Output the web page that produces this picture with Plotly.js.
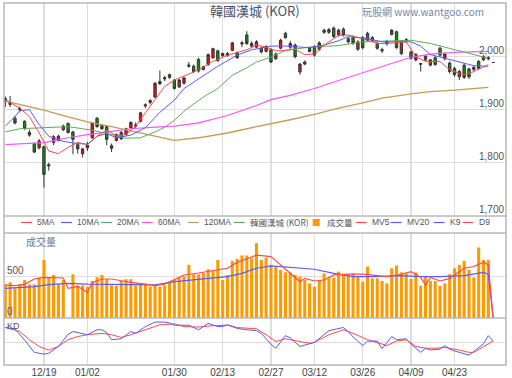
<!DOCTYPE html>
<html><head><meta charset="utf-8">
<script src="https://cdn.plot.ly/plotly-3.0.1.min.js"></script>
<style>html,body{margin:0;padding:0;background:#fff}#c{width:512px;height:378px}</style>
</head><body><div id="c"></div>
<script>
// ---- data (trading-day index 0 = 2011/12/07) ----
const tickIdx = [8, 17, 35, 45, 55, 64, 74, 84, 93];
const tickLabels = ['12/19','01/02','01/30','02/13','02/27','03/12','03/26','04/09','04/23'];

const days = Array.from({length:102}, (_, i) => i);
const open  = [1915,1914,1884,1900,1878,1852,1836,1828,1830,1794,1838,1842,1862,1874,1858,1834,1817,1833,1847,1884,1870,1868,1832,1842,1857,1853,1866,1869,1878,1907,1914,1924,1949,1958,1961,1956,1943,1950,1982,1982,1995,1976,1985,1998,2011,2002,2002,2012,2007,2024,2041,2020,2018,2016,2010,2013,1996,2016,2044,2018,2022,1971,1986,2016,2019,2014,2046,2046,2054,2041,2052,2034,2036,2014,2036,2044,2036,2025,2011,2024,2042,2047,2006,2030,2009,2004,1987,1994,1984,1998,2016,1996,1988,1978,1962,1984,1977,1976,1991,1994,1996,1989];
const high  = [1925,1926,1888,1906,1880,1862,1838,1845,1832,1800,1852,1853,1872,1876,1860,1839,1828,1839,1877,1886,1873,1870,1836,1855,1860,1866,1878,1876,1896,1912,1920,1952,1974,1964,1968,1958,1958,1962,1990,1985,1998,1983,2006,2017,2013,2008,2009,2028,2010,2030,2048,2029,2031,2019,2022,2016,2008,2034,2047,2030,2025,1988,1993,2019,2022,2029,2053,2054,2057,2053,2055,2037,2040,2031,2039,2047,2039,2028,2017,2032,2052,2049,2030,2035,2011,2007,1988,2004,1996,2001,2019,2008,1991,1981,1975,1987,1979,1983,1994,2003,2001,1989];
const low   = [1905,1905,1872,1895,1862,1849,1818,1825,1753,1785,1833,1840,1860,1855,1816,1817,1810,1822,1845,1866,1862,1833,1820,1840,1843,1851,1864,1865,1876,1903,1910,1922,1946,1954,1958,1938,1941,1947,1979,1970,1970,1974,1983,1996,1990,2000,2000,2010,1996,2018,2022,2016,2016,2006,2008,1988,1994,2014,2034,2014,1997,1966,1984,2008,2000,2011,2043,2043,2035,2038,2038,2025,2022,2011,2014,2028,2028,2013,2007,2021,2040,2015,2003,2026,1995,1991,1972,1991,1982,1983,2000,1993,1968,1962,1956,1958,1958,1973,1975,1992,1993,1989];
const close = [1921,1910,1875,1902,1864,1857,1820,1841,1778,1796,1849,1850,1869,1857,1844,1826,1826,1828,1875,1868,1864,1844,1827,1853,1845,1864,1876,1871,1894,1909,1917,1950,1953,1960,1966,1940,1956,1960,1984,1972,1973,1981,2004,2015,1993,2006,2006,2026,1998,2026,2025,2025,2028,2009,2019,1990,2005,2031,2036,2025,2000,1986,1990,2010,2003,2026,2050,2051,2038,2050,2041,2028,2026,2028,2017,2031,2031,2016,2013,2029,2050,2017,2028,2032,1997,1994,1986,2001,1994,1985,2003,2005,1972,1966,1972,1961,1962,1980,1978,2000,1998,1989];
const volume = [408,432,359,408,460,408,408,488,704,494,521,408,460,0,529,395,395,380,449,494,521,470,395,390,449,470,470,395,415,415,380,408,380,395,438,460,488,505,643,529,529,545,590,575,704,460,521,692,716,757,757,724,907,704,732,643,623,582,553,553,521,501,460,419,379,460,541,490,490,562,521,521,541,501,440,623,480,480,448,419,602,635,553,541,472,553,391,501,448,448,391,419,530,602,643,692,582,490,854,704,704,0];

const ma5_i  = [0,3,5,7,9,11,13,15,17,19,21,23,25,27,29,31,33,35,37,40,43,46,50,52,54,56,58,60,62,64,66,67,69,71,74,77,79,83,85,87,90,92,95,97,100];
const ma5_v  = [1919,1903,1887,1856,1822,1817,1829,1838,1834,1850,1862,1850,1853,1869,1894,1919,1944,1956,1964,1975,1991,2003,2013,2022,2018,2011,2012,2014,2004,2005,2022,2028,2040,2041,2034,2025,2025,2028,2000,1991,1991,1975,1966,1972,1985];
const ma10_i = [0,2,3,5,7,9,12,15,17,19,21,23,26,29,32,35,37,41,44,48,51,55,58,63,66,69,71,75,78,84,86,88,93,97,100];
const ma10_v = [1869,1887,1898,1900,1872,1850,1840,1836,1835,1850,1855,1847,1852,1866,1895,1918,1940,1964,1982,2003,2013,2020,2020,2017,2022,2030,2038,2034,2028,2028,2020,2004,1992,1983,1982];
const ma20_i = [0,3,8,13,16,18,22,25,28,31,33,35,37,39,41,44,47,50,52,55,58,63,69,74,80,84,88,93,97,100];
const ma20_v = [1858,1864,1866,1868,1864,1861,1853,1846,1847,1858,1867,1880,1897,1911,1924,1940,1965,1979,1990,1999,2012,2018,2021,2028,2030,2031,2025,2013,2003,1997];
const ma60_i = [0,8,13,17,22,26,31,35,40,46,52,55,59,64,69,74,78,81,84,88,93,100];
const ma60_v = [1834,1838,1847,1853,1859,1864,1867,1869,1875,1889,1908,1919,1927,1940,1955,1970,1981,1991,1999,2005,2008,2010];
const ma120_i = [0,4,8,12,17,22,28,35,40,46,52,55,59,64,69,74,78,84,88,93,100];
const ma120_v = [1916,1908,1899,1889,1877,1868,1856,1842,1847,1856,1868,1873,1881,1891,1903,1913,1922,1930,1934,1937,1942];

const mv5_i = [0,2,4,6,8,10,12,13,15,17,18,20,22,24,26,29,31,33,35,37,40,43,46,48,50,52,55,57,59,61,62,64,66,68,71,74,77,79,82,84,86,87,88,90,92,95,97,99,100,101];
const mv5_v = [399,391,407,472,492,492,484,358,383,310,431,472,472,451,431,411,391,411,464,521,545,574,602,675,720,760,744,643,541,440,480,448,460,521,530,530,513,501,530,562,490,399,490,448,480,602,623,676,643,0];
const mv20_i = [0,3,6,9,13,17,22,28,31,35,39,42,46,49,52,55,57,61,64,68,72,77,82,86,90,95,99,100,101];
const mv20_v = [358,366,379,405,419,410,407,405,402,440,460,480,501,541,602,630,623,602,590,541,501,501,513,501,501,513,553,530,0];

const k_i = [0,2,4,5,6,8,9,11,13,14,16,17,19,20,21,22,24,26,27,29,31,33,34,35,37,38,40,42,44,45,46,48,50,52,53,55,56,58,59,61,62,64,67,68,70,71,72,74,75,77,78,80,81,83,84,86,87,88,90,91,92,93,95,96,97,99,100,101];
const k_v = [83,80,55,41,28,24,26,41,68,74,69,67,78,78,72,56,58,74,70,85,95,95,93,88,88,88,78,92,85,85,89,81,78,76,70,46,37,65,60,41,44,50,76,78,83,74,62,43,53,53,36,63,56,58,46,28,37,33,35,43,35,31,25,22,30,47,65,53];
const d_i = [0,3,5,7,9,11,13,15,17,20,22,24,26,29,32,35,37,40,43,46,48,52,54,56,58,60,63,64,67,70,72,75,77,79,81,83,85,87,89,91,94,96,97,99,101];
const d_v = [83,74,56,41,33,41,56,63,67,70,67,61,67,78,89,91,85,84,87,88,83,80,67,52,58,54,48,50,67,78,70,56,50,43,53,56,41,37,37,39,33,28,28,41,53];

// ---- geometry ----
const TOP=3, BOT=365, PH=BOT-TOP, L=4, R=506.5, PW=R-L;
const py = y => (BOT - y) / PH;     // pixel y -> paper
const px = x => (x - L) / PW;       // pixel x -> paper

const red='#ff4a4a', blue='#5a5aff', green='#5aae5a', mag='#ff55ff', tan='#c89a55';
const ln = (x, y, color, ya, w) => ({type:'scatter', mode:'lines', x, y, yaxis:ya, xaxis:'x',
  line:{color, width:w||1}, hoverinfo:'skip'});

const traces = [
  ln(ma120_i, ma120_v, tan, 'y', 1.3),
  ln(ma60_i, ma60_v, mag, 'y', 1.2),
  ln(ma20_i, ma20_v, green, 'y', 1),
  ln(ma10_i, ma10_v, blue, 'y', 1),
  ln(ma5_i, ma5_v, red, 'y', 1),
  {type:'candlestick', x:days, open, high, low, close, xaxis:'x', yaxis:'y',
   increasing:{line:{color:'#333', width:1}, fillcolor:'#ee1111'},
   decreasing:{line:{color:'#333', width:1}, fillcolor:'#128a12'},
   whiskerwidth:0, hoverinfo:'skip'},
  {type:'bar', x:days, y:volume, xaxis:'x', yaxis:'y2', width:0.64,
   marker:{color:'#ff9900', line:{width:0}}, hoverinfo:'skip'},
  ln(mv20_i, mv20_v, blue, 'y2', 1.2),
  ln(mv5_i, mv5_v, red, 'y2', 1.2),
  ln(d_i, d_v, red, 'y3', 1),
  ln(k_i, k_v, blue, 'y3', 1)
];

const gridC = '#dedede';
const font = 'Liberation Sans, Arial, sans-serif';
const cjk = 'Noto Sans CJK TC, Liberation Sans, sans-serif';

const ann = [];
ann.push({text:'韓國漢城 (KOR)', xref:'paper', yref:'paper', x:px(255), y:py(10), xanchor:'center', yanchor:'middle',
  showarrow:false, font:{family:cjk, size:13, color:'#44546f'}});
ann.push({text:'玩股網 www.wantgoo.com', xref:'paper', yref:'paper', x:px(486), y:py(11), xanchor:'right', yanchor:'middle',
  showarrow:false, font:{family:cjk, size:10, color:'#7088a8'}});
[1700,1800,1900,2000].forEach(v => ann.push({text:v.toLocaleString('en-US'), xref:'paper', yref:'y', x:px(505), y:v,
  xanchor:'right', yanchor:'bottom', showarrow:false, borderpad:0, font:{family:font, size:10, color:'#555'}}));
[0,500].forEach(v => ann.push({text:String(v), xref:'paper', yref:'y2', x:px(6), y:v,
  xanchor:'left', yanchor:'bottom', showarrow:false, borderpad:0, font:{family:font, size:10, color:'#555'}}));
ann.push({text:'成交量', xref:'paper', yref:'paper', x:px(24), y:py(242), xanchor:'left', yanchor:'middle',
  showarrow:false, font:{family:cjk, size:10, color:'#6a7c9a'}});
ann.push({text:'KD', xref:'paper', yref:'paper', x:px(5), y:py(326), xanchor:'left', yanchor:'middle',
  showarrow:false, font:{family:font, size:9, color:'#555'}});

// legend (drawn manually)
const legY = py(222.5);
const legend = [
  ['line', red, 21, 32, '5MA', 35],
  ['line', blue, 61, 72, '10MA', 75],
  ['line', green, 101, 112, '20MA', 115],
  ['line', mag, 142, 153, '60MA', 156],
  ['line', tan, 188, 199, '120MA', 202],
  ['line', green, 234, 245, '韓國漢城 (KOR)', 248],
  ['box', '#ff9900', 313, 320, '成交量', 325],
  ['line', red, 356, 367, 'MV5', 370],
  ['line', blue, 391, 402, 'MV20', 405],
  ['line', blue, 434, 445, 'K9', 448],
  ['line', red, 463, 474, 'D9', 477]
];
const shapes = [];
legend.forEach(([kind, col, x0, x1, label, tx]) => {
  if (kind === 'line') shapes.push({type:'line', xref:'paper', yref:'paper', x0:px(x0), x1:px(x1), y0:legY, y1:legY, line:{color:col, width:1.2}});
  else shapes.push({type:'rect', xref:'paper', yref:'paper', x0:px(x0), x1:px(x1), y0:py(226), y1:py(219), fillcolor:col, line:{width:0}});
  ann.push({text:label, xref:'paper', yref:'paper', x:px(tx), y:legY, xanchor:'left', yanchor:'middle', showarrow:false,
    font:{family: /[^\x00-\x7f]/.test(label) ? cjk : font, size:8.5, color:'#555'}});
});
// panel frame
const fr = {color:'#b8b8b8', width:1.5};
shapes.push({type:'rect', xref:'paper', yref:'paper', x0:0, x1:1, y0:0, y1:1, line:fr, layer:'above'});
[216, 233, 318].forEach(y => shapes.push({type:'line', xref:'paper', yref:'paper', x0:0, x1:1, y0:py(y), y1:py(y), line:fr, layer:'above'}));

const layout = {
  width:512, height:378, margin:{l:L, r:512-R, t:TOP, b:378-BOT, pad:0},
  paper_bgcolor:'#fff', plot_bgcolor:'#fff', showlegend:false, hovermode:false,
  xaxis:{range:[(L-5.3)/4.835, (R-5.3)/4.835], anchor:'y3', tickmode:'array', tickvals:tickIdx, ticktext:tickLabels,
    showgrid:true, gridcolor:gridC, gridwidth:1.5, zeroline:false, showline:false, ticks:'',
    tickfont:{family:font, size:10, color:'#444'}, rangeslider:{visible:false}, fixedrange:true},
  yaxis:{domain:[py(216), 1], range:[1699.4, 2101.3], tickvals:[1700,1800,1900,2000], showticklabels:false,
    gridcolor:gridC, gridwidth:1.5, zeroline:false, fixedrange:true},
  yaxis2:{domain:[py(318), py(233)], range:[0, 1029], tickvals:[500], showticklabels:false,
    gridcolor:gridC, gridwidth:1.5, zeroline:false, fixedrange:true},
  yaxis3:{domain:[0, py(318)], range:[0, 104], tickvals:[50], showticklabels:false,
    gridcolor:gridC, gridwidth:1.5, zeroline:false, fixedrange:true},
  annotations:ann, shapes
};
Plotly.newPlot('c', traces, layout, {staticPlot:true, displayModeBar:false});
</script></body></html>
